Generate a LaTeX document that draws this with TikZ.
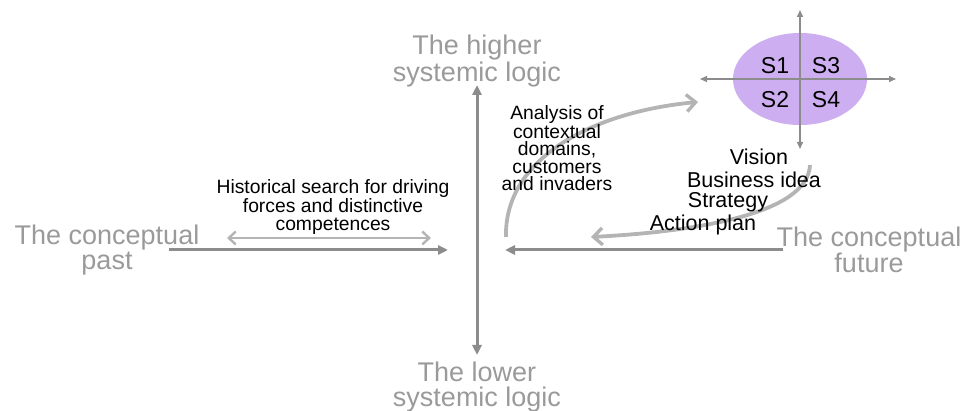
\documentclass[tikz,border=0pt]{standalone}
\usepackage{fontspec}
\setmainfont{Liberation Sans}
\usetikzlibrary{arrows.meta,shapes.geometric}
\definecolor{axisgray}{HTML}{8C8C8C}
\definecolor{lightgray2}{HTML}{B4B4B4}
\definecolor{labelgray}{HTML}{9A9A9A}
\definecolor{lav}{HTML}{CDAEF0}
\tikzset{
  axis/.style={draw=axisgray, line width=3pt, -{Triangle[length=10pt,width=9pt]}},
  smallaxis/.style={draw=axisgray, line width=1.4pt, -{Triangle[length=7pt,width=6pt]}},
  curvearrow/.style={draw=lightgray2, line width=3.8pt, -{Straight Barb[length=9pt,width=17pt,line width=3.4pt]}},
  dblarrow/.style={draw=lightgray2, line width=2.6pt, {Straight Barb[length=7pt,width=13pt,line width=2.4pt]}-{Straight Barb[length=7pt,width=13pt,line width=2.4pt]}},
  biglabel/.style={text=labelgray, font=\fontsize{27}{25}\selectfont, align=center, inner sep=0pt},
  blacklabel/.style={text=black, font=\fontsize{19.3}{17.5}\selectfont, align=center, inner sep=0pt},
  rightlabel/.style={text=black, font=\fontsize{21.5}{22}\selectfont, inner sep=0pt},
  slabel/.style={text=black, font=\fontsize{23}{23}\selectfont, inner sep=0pt},
}
\begin{document}
\begin{tikzpicture}[x=1pt,y=-1pt]
\useasboundingbox (0,0) rectangle (964,411);
% ellipse
\node[ellipse, fill=lav, minimum width=134pt, minimum height=92pt, inner sep=0pt] (ell) at (800,79) {};
% main axes coordinates
\coordinate (vtop) at (477,85);
\coordinate (vbot) at (477,355);
\coordinate (origin) at (477,250);
\coordinate (hleft) at (169,250);
\coordinate (hlefttip) at (448,250);
\coordinate (hright) at (783,250);
\coordinate (hrighttip) at (505,250);
\draw[axis] (origin) -- (vtop);
\draw[axis] (origin) -- (vbot);
\draw[axis] (hleft) -- (hlefttip);
\draw[axis] (hright) -- (hrighttip);
% small crosshair
\coordinate (sc) at (800,79);
\coordinate (st) at (800,10);
\coordinate (sb) at (800,149);
\coordinate (sl) at (700,79);
\coordinate (sr) at (896,79);
\draw[smallaxis] (sc) -- (st);
\draw[smallaxis] (sc) -- (sb);
\draw[smallaxis] (sc) -- (sl);
\draw[smallaxis] (sc) -- (sr);
\node[slabel] (s1) at (775,66) {S1};
\node[slabel] (s3) at (826,66) {S3};
\node[slabel] (s2) at (775,100) {S2};
\node[slabel] (s4) at (826,100) {S4};
% double arrow
\coordinate (da1) at (227,238);
\coordinate (da2) at (431,238);
\draw[dblarrow] (da1) -- (da2);
% curves
\coordinate (c1s) at (506,237);
\coordinate (c1e) at (698,102);
\draw[curvearrow] (c1s) .. controls (504,160) and (590,112) .. (c1e);
\coordinate (c2s) at (810,165);
\coordinate (c2e) at (591,237);
\draw[curvearrow] (c2s) .. controls (808,215) and (690,232) .. (c2e);
% labels
\node[biglabel] (higher) at (477,61) {The higher\\systemic logic};
\node[biglabel] (lower) at (477,387) {The lower\\systemic logic};
\node[biglabel] (past) at (107,250) {The conceptual\\past};
\node[biglabel] (future) at (869,250) {The conceptual\\future};
\node[blacklabel] (hist) at (333,207) {Historical search for driving\\forces and distinctive\\competences};
\node[blacklabel] (anal) at (557,148) {Analysis of\\contextual\\domains,\\customers\\and invaders};
\node[rightlabel] (vision) at (759,157) {Vision};
\node[rightlabel] (bidea) at (754,180) {Business idea};
\node[rightlabel] (strat) at (728,202) {Strategy};
\node[rightlabel] (action) at (703,225) {Action plan};
\end{tikzpicture}
\end{document}
